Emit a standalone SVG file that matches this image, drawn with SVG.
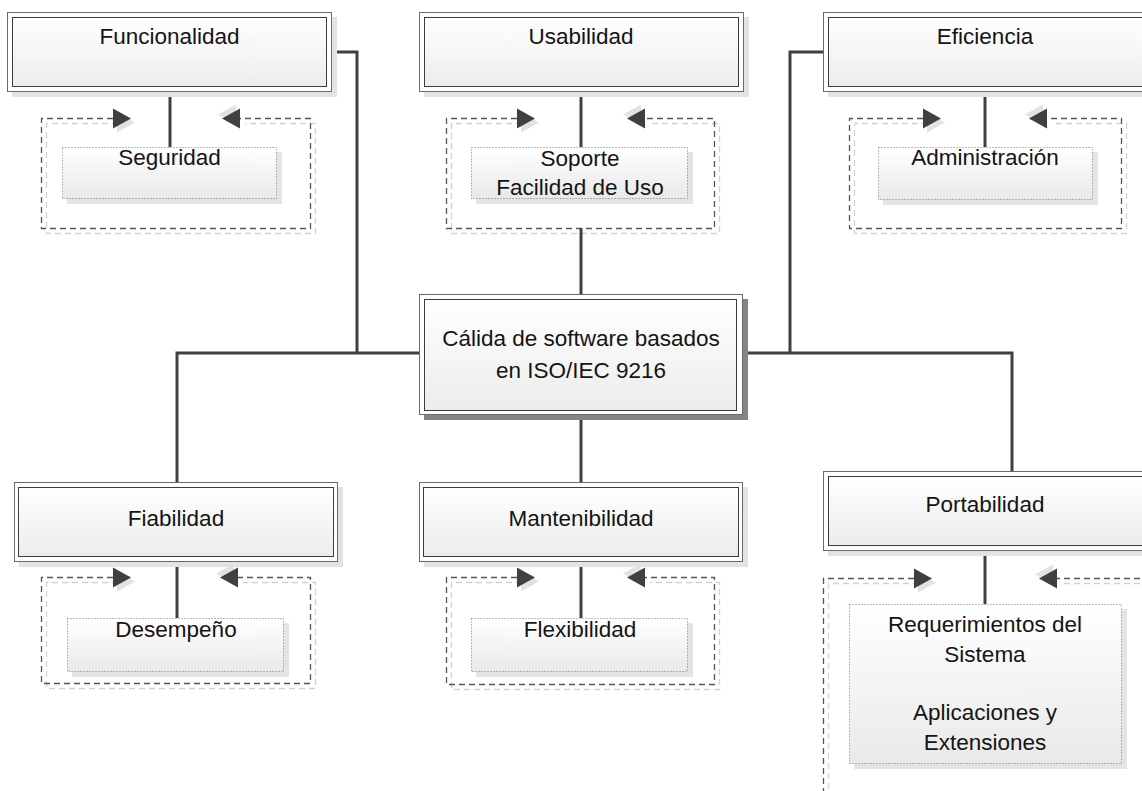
<svg xmlns="http://www.w3.org/2000/svg" width="1142" height="791" viewBox="0 0 1142 791">
  <defs>
    <linearGradient id="boxGrad" x1="0" y1="0" x2="0" y2="1">
      <stop offset="0" stop-color="#ffffff"/>
      <stop offset="1" stop-color="#ececec"/>
    </linearGradient>
    <linearGradient id="subGrad" x1="0" y1="0" x2="0" y2="1">
      <stop offset="0" stop-color="#ffffff"/>
      <stop offset="1" stop-color="#e9e9e9"/>
    </linearGradient>
    <!-- inward-pointing arrowhead of the dashed group frames, with its soft shadow -->
    <marker id="frameArrow" markerUnits="userSpaceOnUse" viewBox="-2 -12 26 28" markerWidth="26" markerHeight="28" refX="0" refY="0" orient="auto-start-reverse" overflow="visible">
      <path d="M0,-10 L18,0 L0,10 Z" transform="translate(4,4)" fill="#e2e2e2"/>
      <path d="M0,-10 L18,0 L0,10 Z" fill="#404040"/>
    </marker>
  </defs>
  <style>
    .shadow { fill: #e3e3e3; }
    .shadowDark { fill: #858585; }
    .outer { fill: #ffffff; stroke: #6a6a6a; stroke-width: 1; }
    .inner { fill: url(#boxGrad); stroke: #3c3c3c; stroke-width: 1; }
    .frame { fill: none; stroke: #555555; stroke-width: 1.3; stroke-dasharray: 6 4; }
    .frameShadow { fill: none; stroke: #d2d2d2; stroke-width: 1.3; stroke-dasharray: 6 4; }
    .subShadow { fill: #e4e4e4; }
    .sub { fill: url(#subGrad); stroke: #777777; stroke-width: 1; stroke-dasharray: 1 2; }
    .conn { fill: none; stroke: #404040; stroke-width: 3; }
    text { font-family: "Liberation Sans", Arial, sans-serif; font-size: 22.5px; fill: #141414; text-anchor: middle; }
  </style>

  <rect width="1142" height="791" fill="#ffffff"/>

  <!-- dashed group frames -->
  <g id="frames">
    <path class="frameShadow" d="M118 123.5 H46.5 V233.5 H315.5 V123.5 H245"/>
    <path class="frame" d="M113 118.5 H41.5 V228.5 H310.5 V118.5 H240" marker-start="url(#frameArrow)" marker-end="url(#frameArrow)"/>
    <path class="frameShadow" d="M522 123.5 H451.5 V233.5 H719.5 V123.5 H650"/>
    <path class="frame" d="M517 118.5 H446.5 V228.5 H714.5 V118.5 H645" marker-start="url(#frameArrow)" marker-end="url(#frameArrow)"/>
    <path class="frameShadow" d="M928 123.5 H854.5 V233.5 H1126.5 V123.5 H1052"/>
    <path class="frame" d="M923 118.5 H849.5 V228.5 H1121.5 V118.5 H1047" marker-start="url(#frameArrow)" marker-end="url(#frameArrow)"/>
    <path class="frameShadow" d="M118 582.5 H46.5 V688.5 H315.5 V582.5 H243"/>
    <path class="frame" d="M113 577.5 H41.5 V683.5 H310.5 V577.5 H238" marker-start="url(#frameArrow)" marker-end="url(#frameArrow)"/>
    <path class="frameShadow" d="M522 582.5 H451.5 V689.5 H719.5 V582.5 H650"/>
    <path class="frame" d="M517 577.5 H446.5 V684.5 H714.5 V577.5 H645" marker-start="url(#frameArrow)" marker-end="url(#frameArrow)"/>
    <path class="frameShadow" d="M919 583.5 H828.5 V805 M1160 583.5 H1062"/>
    <path class="frame" d="M914 578.5 H823.5 V800 M1160 578.5 H1057" marker-start="url(#frameArrow)" marker-end="url(#frameArrow)"/>
  </g>

  <!-- connectors -->
  <g id="connectors">
    <path class="conn" d="M170 92 V147"/>
    <path class="conn" d="M581 92 V147"/>
    <path class="conn" d="M581 228 V294"/>
    <path class="conn" d="M985 92 V147"/>
    <path class="conn" d="M332 52 H357 V353"/>
    <path class="conn" d="M419 353 H177 V482"/>
    <path class="conn" d="M823 52 H790 V353"/>
    <path class="conn" d="M743 353 H1012 V471"/>
    <path class="conn" d="M581 415 V482"/>
    <path class="conn" d="M177 562 V618"/>
    <path class="conn" d="M581 562 V618"/>
    <path class="conn" d="M985 551 V604"/>
  </g>

  <!-- main characteristic boxes -->
  <g id="funcionalidad">
    <rect class="shadow" x="12" y="17" width="325" height="80"/>
    <rect class="outer" x="7.5" y="12.5" width="324" height="79"/>
    <rect class="inner" x="12.5" y="17.5" width="314" height="69"/>
    <text x="169.5" y="44">Funcionalidad</text>
  </g>
  <g id="usabilidad">
    <rect class="shadow" x="424" y="17" width="325" height="80"/>
    <rect class="outer" x="419.5" y="12.5" width="324" height="79"/>
    <rect class="inner" x="424.5" y="17.5" width="314" height="69"/>
    <text x="581" y="44">Usabilidad</text>
  </g>
  <g id="eficiencia">
    <rect class="shadow" x="828" y="17" width="325" height="80"/>
    <rect class="outer" x="823.5" y="12.5" width="324" height="79"/>
    <rect class="inner" x="828.5" y="17.5" width="314" height="69"/>
    <text x="985" y="44">Eficiencia</text>
  </g>
  <g id="calidad">
    <rect class="shadowDark" x="424" y="299" width="324" height="121"/>
    <rect class="outer" x="419.5" y="294.5" width="323" height="120"/>
    <rect class="inner" x="424.5" y="299.5" width="312" height="111"/>
    <text x="581" y="346">Cálida de software basados</text>
    <text x="581" y="378">en ISO/IEC 9216</text>
  </g>
  <g id="fiabilidad">
    <rect class="shadow" x="19" y="487" width="324" height="80"/>
    <rect class="outer" x="14.5" y="482.5" width="323" height="79"/>
    <rect class="inner" x="18.5" y="487.5" width="315" height="69"/>
    <text x="176" y="526">Fiabilidad</text>
  </g>
  <g id="mantenibilidad">
    <rect class="shadow" x="424" y="487" width="324" height="80"/>
    <rect class="outer" x="419.5" y="482.5" width="323" height="79"/>
    <rect class="inner" x="423.5" y="487.5" width="315" height="69"/>
    <text x="581" y="526">Mantenibilidad</text>
  </g>
  <g id="portabilidad">
    <rect class="shadow" x="828" y="476" width="325" height="80"/>
    <rect class="outer" x="823.5" y="471.5" width="324" height="79"/>
    <rect class="inner" x="828.5" y="476.5" width="314" height="69"/>
    <text x="985" y="512">Portabilidad</text>
  </g>

  <!-- sub-characteristic boxes -->
  <g id="seguridad">
    <rect class="subShadow" x="67" y="152" width="215" height="52"/>
    <rect class="sub" x="62.5" y="147.5" width="214" height="51"/>
    <text x="169.5" y="165">Seguridad</text>
  </g>
  <g id="soporte">
    <rect class="subShadow" x="476" y="152" width="217" height="52"/>
    <rect class="sub" x="471.5" y="147.5" width="216" height="51"/>
    <text x="580" y="166">Soporte</text>
    <text x="580" y="195">Facilidad de Uso</text>
  </g>
  <g id="administracion">
    <rect class="subShadow" x="883" y="152" width="215" height="53"/>
    <rect class="sub" x="878.5" y="147.5" width="214" height="52"/>
    <text x="985" y="165">Administración</text>
  </g>
  <g id="desempeno">
    <rect class="subShadow" x="72" y="623" width="217" height="54"/>
    <rect class="sub" x="67.5" y="618.5" width="216" height="53"/>
    <text x="176" y="637">Desempeño</text>
  </g>
  <g id="flexibilidad">
    <rect class="subShadow" x="476" y="623" width="217" height="54"/>
    <rect class="sub" x="471.5" y="618.5" width="216" height="53"/>
    <text x="580" y="637">Flexibilidad</text>
  </g>
  <g id="requerimientos">
    <rect class="subShadow" x="854" y="609" width="273" height="160"/>
    <rect class="sub" x="849.5" y="604.5" width="272" height="159"/>
    <text x="985" y="632">Requerimientos del</text>
    <text x="985" y="662">Sistema</text>
    <text x="985" y="720">Aplicaciones y</text>
    <text x="985" y="750">Extensiones</text>
  </g>
</svg>
